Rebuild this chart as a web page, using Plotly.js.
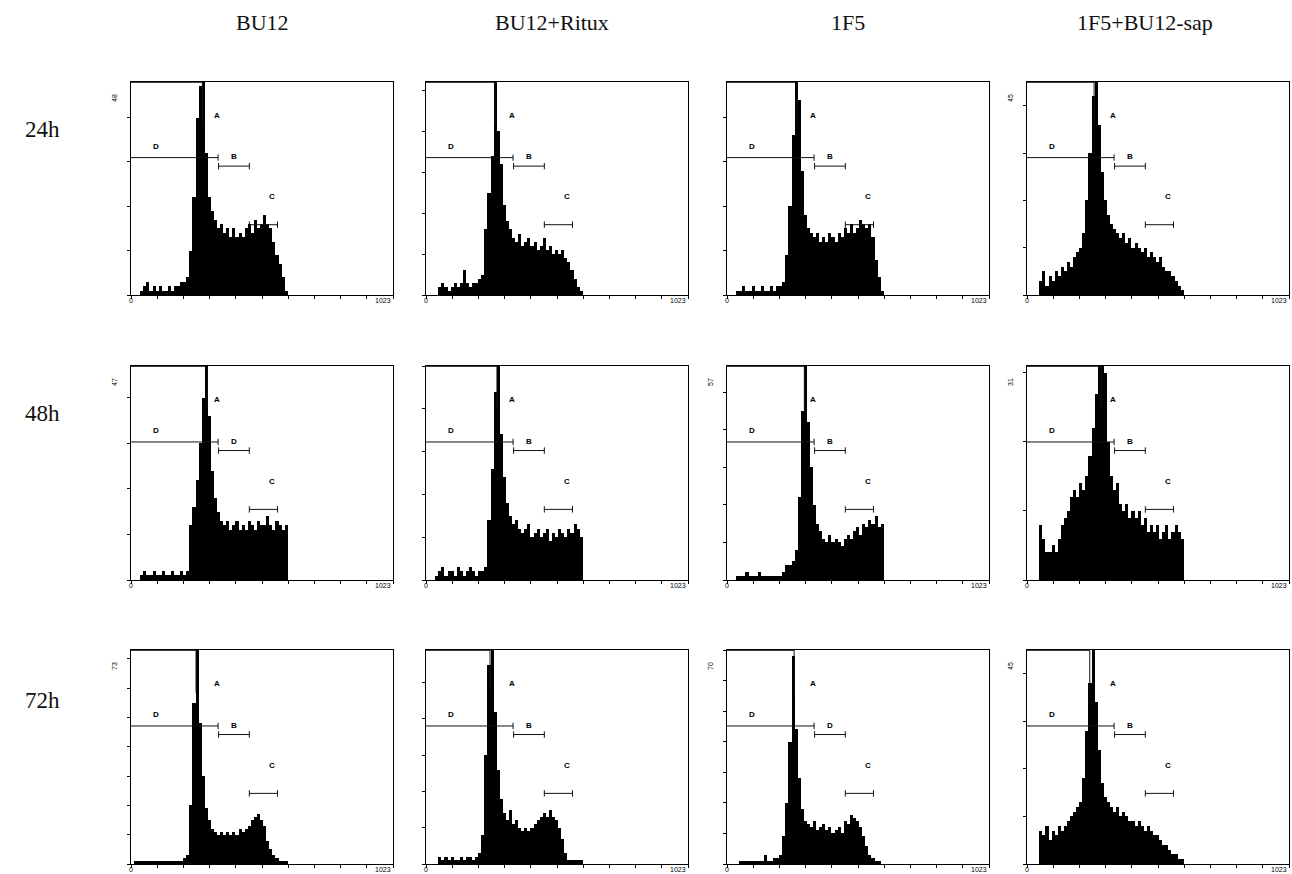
<!DOCTYPE html>
<html>
<head>
<meta charset="utf-8">
<script src="https://cdn.plot.ly/plotly-3.0.1.min.js"></script>
<style>html,body{margin:0;padding:0;background:#fff;}#chart{width:1292px;height:874px;}</style>
</head>
<body>
<div id="chart"></div>
<script>
// ---- data (DNA content histograms, channel 0..1023) ----
const channel = [6,18,30,42,54,66,78,90,102,114,126,138,150,162,174,186,198,210,222,234,246,258,270,282,294,306,318,330,342,354,366,378,390,402,414,426,438,450,462,474,486,498,510,522,534,546,558,570,582,594,606,618];

const colLabels = ['BU12', 'BU12+Ritux', '1F5', '1F5+BU12-sap'];
const rowLabels = ['24h', '48h', '72h'];

// counts per channel bin
const bu12_24h       = [0,0,0,1,2,3,1,2,1,2,1,1,2,1,2,2,3,3,4,10,22,40,47,49,32,22,19,17,15,16,14,15,13,15,13,14,13,15,16,14,17,15,16,18,16,15,12,9,7,4,1,0];
const ritux_24h      = [0,0,0,0,2,3,2,1,2,3,2,3,6,3,2,3,3,4,5,16,25,34,52,40,32,22,18,16,14,13,15,12,13,14,12,13,11,12,14,11,12,10,11,10,11,9,8,6,4,2,1,0];
const f5_24h         = [0,0,0,1,1,2,1,1,2,1,1,2,1,1,2,1,2,2,3,9,20,36,48,44,28,18,15,14,13,14,12,13,12,14,13,12,14,13,15,14,16,14,15,17,16,15,16,13,8,4,1,0];
const f5sap_24h      = [0,0,0,0,3,5,2,4,3,5,4,6,5,7,6,8,9,10,13,20,30,42,45,36,26,20,17,15,14,13,12,13,11,12,10,11,10,9,10,8,9,8,7,8,6,5,5,4,3,2,1,0];

const bu12_48h       = [0,0,0,1,2,1,1,2,1,1,2,1,1,2,1,1,2,1,2,12,16,22,30,40,47,36,24,18,15,13,12,13,11,12,13,11,12,11,13,12,11,13,12,12,14,12,11,13,12,11,12,0];
const ritux_48h      = [0,0,0,1,2,3,1,2,2,1,3,2,1,2,3,2,1,2,2,3,14,26,44,50,34,24,18,15,13,14,12,11,12,13,10,11,12,10,11,12,9,11,10,12,11,10,12,11,13,12,10,0];
const f5_48h         = [0,0,0,1,1,1,2,1,1,1,2,1,1,1,1,1,1,1,2,4,4,5,8,22,45,57,42,30,20,15,13,11,10,12,10,11,10,9,11,12,11,13,14,12,15,14,16,15,17,14,15,0];
const f5sap_48h      = [0,0,0,0,8,6,4,4,5,4,6,8,9,10,12,13,12,14,13,15,18,22,27,31,31,30,20,15,13,14,11,10,11,9,10,9,10,8,9,7,8,7,8,6,7,8,6,7,8,7,6,0];

const bu12_72h       = [0,1,1,1,1,1,1,1,1,1,1,1,1,1,1,1,1,2,3,20,55,73,48,30,19,15,12,11,10,11,10,11,10,11,10,12,11,12,13,15,16,17,15,13,8,5,3,2,1,1,1,0];
const ritux_72h      = [0,0,0,0,2,1,2,1,2,1,1,2,1,2,2,1,2,3,8,30,55,59,42,26,18,14,12,15,11,12,10,9,10,9,10,11,12,13,14,13,15,13,12,10,7,3,1,1,1,1,1,0];
const f5_72h         = [0,0,0,0,1,1,1,1,1,1,1,1,3,1,1,2,2,3,9,20,40,68,44,28,18,14,13,12,14,11,12,13,11,12,10,11,12,10,14,13,16,15,14,12,9,6,3,2,1,1,0,0];
const f5sap_72h      = [0,0,0,0,7,6,8,5,7,6,8,7,8,9,10,11,12,13,18,28,38,45,34,24,17,14,13,12,11,12,10,11,10,9,9,8,9,8,7,8,7,6,6,5,4,4,3,2,2,1,1,0];

const histograms = [
  [bu12_24h, ritux_24h, f5_24h, f5sap_24h],
  [bu12_48h, ritux_48h, f5_48h, f5sap_48h],
  [bu12_72h, ritux_72h, f5_72h, f5sap_72h]
];
// y-axis full scale (counts) and printed full-scale label
const yMax      = [[48, 52, 48, 45], [47, 50, 57, 31], [73, 59, 70, 45]];
const yMaxLabel = [['48', '', '', '45'], ['47', '', '57', '31'], ['73', '', '70', '45']];
// G1 peak (A) marker channel
const peakA = [[279, 270, 273, 262], [297, 277, 302, 290], [254, 250, 262, 245]];
// gates in channel units
const gateD = [0, 340];
const gateB = [342, 462];
const gateC = [462, 572];
const gateBText = [['B', 'B', 'B', 'B'], ['D', 'B', 'B', 'B'], ['B', 'B', 'D', 'B']];
const xTickVals = [0, 102.3, 204.6, 306.9, 409.2, 511.5, 613.8, 716.1, 818.4, 920.7, 1023];

// ---- layout geometry (pixels) ----
const W = 1292, H = 874;
const colPx = [[131, 393], [426, 688], [727, 989], [1027, 1289]];
const rowPx = [[82, 295], [366, 580], [650, 864]];
const titleX = [262, 552, 848, 1145];
const rowY = [130, 414, 700];

const traces = [];
const layout = {
  width: W, height: H,
  margin: {l: 0, r: 0, t: 0, b: 0},
  paper_bgcolor: '#fff', plot_bgcolor: '#fff',
  showlegend: false, bargap: 0,
  shapes: [], annotations: []
};
const serif = 'Liberation Serif, Times New Roman, serif';
const sans = 'Liberation Sans, Arial, sans-serif';

for (let r = 0; r < 3; r++) {
  for (let c = 0; c < 4; c++) {
    const n = r * 4 + c + 1;
    const xs = n === 1 ? '' : String(n);
    const xa = 'x' + xs, ya = 'y' + xs;
    traces.push({
      type: 'bar', x: channel, y: histograms[r][c], xaxis: xa, yaxis: ya,
      marker: {color: '#000', line: {width: 0}}, hoverinfo: 'skip'
    });
    layout['xaxis' + xs] = {
      domain: [colPx[c][0] / W, colPx[c][1] / W], range: [0, 1023], anchor: ya,
      showgrid: false, zeroline: false, showline: true, mirror: true,
      linecolor: '#000', linewidth: 1, ticks: 'outside', ticklen: 3, tickwidth: 1,
      tickcolor: '#000', tickvals: xTickVals, showticklabels: false, fixedrange: true
    };
    layout['yaxis' + xs] = {
      domain: [1 - rowPx[r][1] / H, 1 - rowPx[r][0] / H], range: [0, yMax[r][c]], anchor: xa,
      showgrid: false, zeroline: false, showline: true, mirror: true,
      linecolor: '#000', linewidth: 1, ticks: 'outside', ticklen: 3, tickwidth: 1,
      tickcolor: '#000', dtick: 10, tick0: 0, showticklabels: false, fixedrange: true
    };
    const yd = ya + ' domain', xd = xa + ' domain';
    const ln = {color: '#111', width: 1};
    const S = layout.shapes;
    // D gate
    S.push({type: 'line', xref: xa, yref: yd, x0: gateD[0], x1: gateD[1], y0: 0.645, y1: 0.645, line: ln});
    S.push({type: 'line', xref: xa, yref: yd, x0: gateD[1], x1: gateD[1], y0: 0.63, y1: 0.66, line: ln});
    // B gate
    S.push({type: 'line', xref: xa, yref: yd, x0: gateB[0], x1: gateB[1], y0: 0.605, y1: 0.605, line: ln});
    S.push({type: 'line', xref: xa, yref: yd, x0: gateB[0], x1: gateB[0], y0: 0.59, y1: 0.62, line: ln});
    S.push({type: 'line', xref: xa, yref: yd, x0: gateB[1], x1: gateB[1], y0: 0.59, y1: 0.62, line: ln});
    // C gate
    S.push({type: 'line', xref: xa, yref: yd, x0: gateC[0], x1: gateC[1], y0: 0.33, y1: 0.33, line: ln});
    S.push({type: 'line', xref: xa, yref: yd, x0: gateC[0], x1: gateC[0], y0: 0.315, y1: 0.345, line: ln});
    S.push({type: 'line', xref: xa, yref: yd, x0: gateC[1], x1: gateC[1], y0: 0.315, y1: 0.345, line: ln});
    // A gate marker (from top edge at G1 peak)
    S.push({type: 'line', xref: xa, yref: yd, x0: 0, x1: peakA[r][c], y0: 1, y1: 1, line: {color: '#000', width: 1.5}});
    S.push({type: 'line', xref: xa, yref: yd, x0: peakA[r][c], x1: peakA[r][c], y0: 1, y1: 0.8, line: ln});

    const A = layout.annotations;
    const gf = {family: sans, size: 8, color: '#000'};
    A.push({xref: xa, yref: yd, x: 98, y: 0.73, text: '<b>D</b>', showarrow: false, font: gf});
    A.push({xref: xa, yref: yd, x: 336, y: 0.872, text: '<b>A</b>', showarrow: false, font: gf});
    A.push({xref: xa, yref: yd, x: 404, y: 0.648, text: '<b>' + gateBText[r][c] + '</b>', showarrow: false, font: gf});
    A.push({xref: xa, yref: yd, x: 552, y: 0.462, text: '<b>C</b>', showarrow: false, font: gf});
    const tf = {family: sans, size: 7, color: '#000'};
    A.push({xref: xa, yref: yd, x: 0, y: 0, yshift: -5, xanchor: 'center', yanchor: 'middle', text: '0', showarrow: false, font: tf});
    A.push({xref: xa, yref: yd, x: 1023, y: 0, yshift: -5, xanchor: 'right', yanchor: 'middle', text: '1023', showarrow: false, font: tf});
    if (yMaxLabel[r][c]) {
      A.push({xref: xd, yref: yd, x: 0, y: 1, xshift: -17, yshift: -16, xanchor: 'center', yanchor: 'middle', textangle: -90,
        text: yMaxLabel[r][c], showarrow: false, font: {family: sans, size: 7, color: '#000'}});
    }
  }
}
for (let c = 0; c < 4; c++) {
  layout.annotations.push({xref: 'paper', yref: 'paper', x: titleX[c] / W, y: 1 - 22 / H,
    xanchor: 'center', yanchor: 'middle',
    text: colLabels[c], showarrow: false, font: {family: serif, size: 22, color: '#111'}});
}
for (let r = 0; r < 3; r++) {
  layout.annotations.push({xref: 'paper', yref: 'paper', x: 42 / W, y: 1 - rowY[r] / H,
    xanchor: 'center', yanchor: 'middle',
    text: rowLabels[r], showarrow: false, font: {family: serif, size: 23, color: '#111'}});
}
Plotly.newPlot('chart', traces, layout, {staticPlot: true, displayModeBar: false});
</script>
</body>
</html>
